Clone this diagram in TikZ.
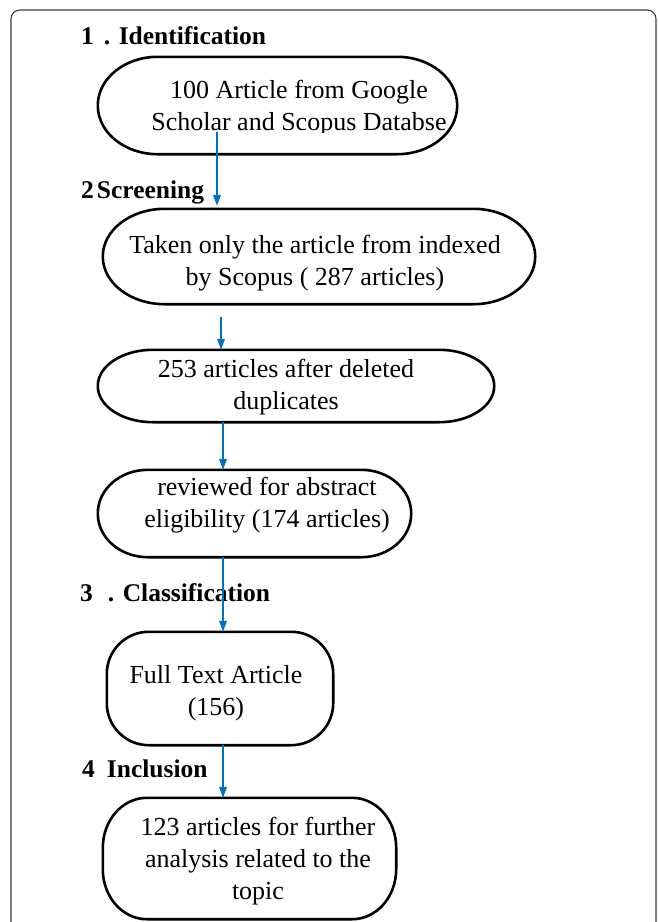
\documentclass[tikz,border=0pt]{standalone}
\usepackage{fontspec}
\setmainfont{Liberation Serif}
\usetikzlibrary{arrows.meta}
\definecolor{arrowblue}{HTML}{0070C0}
\definecolor{framegray}{HTML}{3A3A3A}
\tikzset{
  boxline/.style={draw=black, line width=2.6pt},
  boxarea/.style={draw=none, inner sep=0pt},
  txt/.style={font=\fontsize{26}{32}\selectfont, align=flush center, text width=440pt, inner sep=0pt, anchor=base},
  hdr/.style={font=\fontsize{25.5}{30}\selectfont\bfseries, inner sep=0pt, anchor=base west},
  flow/.style={draw=arrowblue, line width=2pt, -{Triangle[length=11pt,width=7.5pt]}}
}
\newcommand\stadium[3]{%
  \draw[boxline] ([xshift=#2]#1.north west) -- ([xshift=-#2]#1.north east)
    arc[start angle=90,end angle=0,x radius=#2,y radius=#3]
    -- ([yshift=#3]#1.south east)
    arc[start angle=0,end angle=-90,x radius=#2,y radius=#3]
    -- ([xshift=#2]#1.south west)
    arc[start angle=270,end angle=180,x radius=#2,y radius=#3]
    -- ([yshift=-#3]#1.north west)
    arc[start angle=180,end angle=90,x radius=#2,y radius=#3] -- cycle;}
\begin{document}
\begin{tikzpicture}[x=1pt,y=1pt]
\useasboundingbox (0,0) rectangle (657,-922);
% outer frame
\draw[framegray, line width=1.1pt, rounded corners=9pt] (11,-960) -- (11,-10) -- (656,-10) -- (656,-960);

% headers
\node[hdr] (h1) at (81,-44) {1\hspace{10pt}. Identification};
\node[hdr] (h2) at (81,-198) {2\hspace{3pt}Screening};
\node[hdr] (h3) at (80,-601) {3\hspace{15pt}. Classification};
\node[hdr] (h4) at (82,-777) {4\hspace{12pt}Inclusion};

% box areas
\node[boxarea, minimum width=359pt, minimum height=97pt] (b1) at (277.5,-105.5) {};
\node[boxarea, minimum width=432pt, minimum height=95pt] (b2) at (319,-256.5) {};
\node[boxarea, minimum width=396pt, minimum height=72pt] (b3) at (296,-386) {};
\node[boxarea, minimum width=313pt, minimum height=87pt] (b4) at (254.5,-513.5) {};
\node[boxarea, minimum width=226pt, minimum height=113pt] (b5) at (220,-688.5) {};
\node[boxarea, minimum width=293pt, minimum height=121pt] (b6) at (249.5,-858.5) {};

\stadium{b1}{60pt}{48.5pt}
\stadium{b2}{62pt}{47.5pt}
\stadium{b3}{55pt}{36pt}
\stadium{b4}{50pt}{43.5pt}
\stadium{b5}{42pt}{42pt}
\stadium{b6}{44pt}{50pt}

% texts
\begin{scope}
\clip (0,0) rectangle (657,-132);
\node[txt] (t1) at (299,-98) {100 Article from Google\\Scholar and Scopus Databse};
\end{scope}
\node[txt] (t2) at (315,-253) {Taken only the article from indexed\\by Scopus ( 287 articles)};
\node[txt] (t3) at (286,-377) {253 articles after deleted\\duplicates};
\node[txt] (t4) at (267,-495) {reviewed for abstract\\eligibility (174 articles)};
\node[txt] (t5) at (216,-683) {Full Text Article\\(156)};
\node[txt] (t6) at (258,-835) {123 articles for further\\analysis related to the\\topic};

% connectors
\coordinate (a1s) at (217,-132);
\coordinate (a2s) at (221,-317);
\coordinate (ax) at (223,0);
\draw[flow, shorten >=3pt] (a1s) -- (a1s |- b2.north);
\draw[flow] (a2s) -- (a2s |- b3.north);
\draw[flow] (b3.south -| ax) -- (b4.north -| ax);
\draw[flow] (b4.south -| ax) -- (b5.north -| ax);
\draw[flow] (b5.south -| ax) -- (b6.north -| ax);
\end{tikzpicture}
\end{document}
